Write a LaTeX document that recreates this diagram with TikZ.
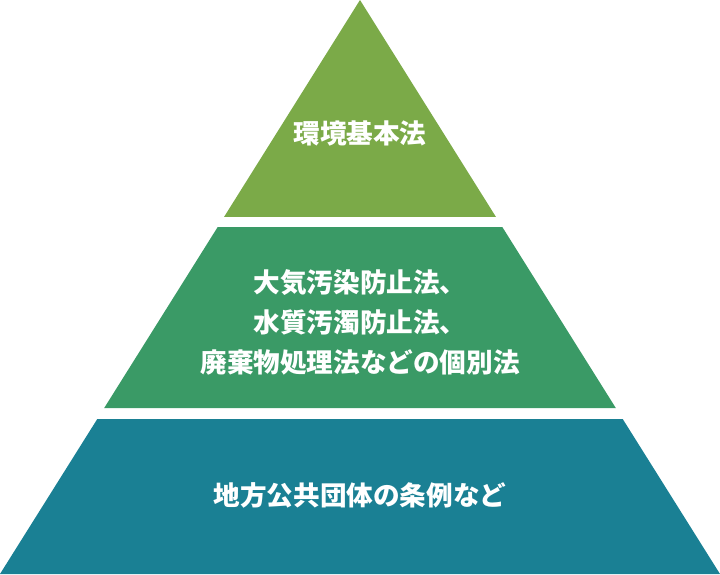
\documentclass[tikz,border=0pt]{standalone}
\usepackage{fontspec}
\newfontfamily\jpfont{Noto Sans CJK JP}
\usepackage{tikz}
\usetikzlibrary{positioning}
\definecolor{topgreen}{RGB}{123,170,72}
\definecolor{midgreen}{RGB}{58,154,102}
\definecolor{lowteal}{RGB}{26,128,148}

\begin{document}
\begin{tikzpicture}[x=1pt,y=1pt,
	level text/.style={text=white,align=center,font=\jpfont\bfseries\fontsize{26.6}{40}\selectfont}]
	\useasboundingbox (0,0) rectangle (720,574);
	
	% three layers of the pyramid
	\fill[topgreen] (360,574) -- (496,357) -- (224,357) -- cycle;
	\fill[midgreen] (217.7,347) -- (502.3,347) -- (615.8,166) -- (104.2,166) -- cycle;
	\fill[lowteal] (97.3,155) -- (622.7,155) -- (720,0) -- (0,0) -- cycle;
	
	\node[level text] (basic) at (360,441) {環境基本法};
	\node[level text] (special) at (360,252) {大気汚染防止法、\\水質汚濁防止法、\\廃棄物処理法などの個別法};
	\node[level text] (local) at (360,79) {地方公共団体の条例など};
\end{tikzpicture}
\end{document}
